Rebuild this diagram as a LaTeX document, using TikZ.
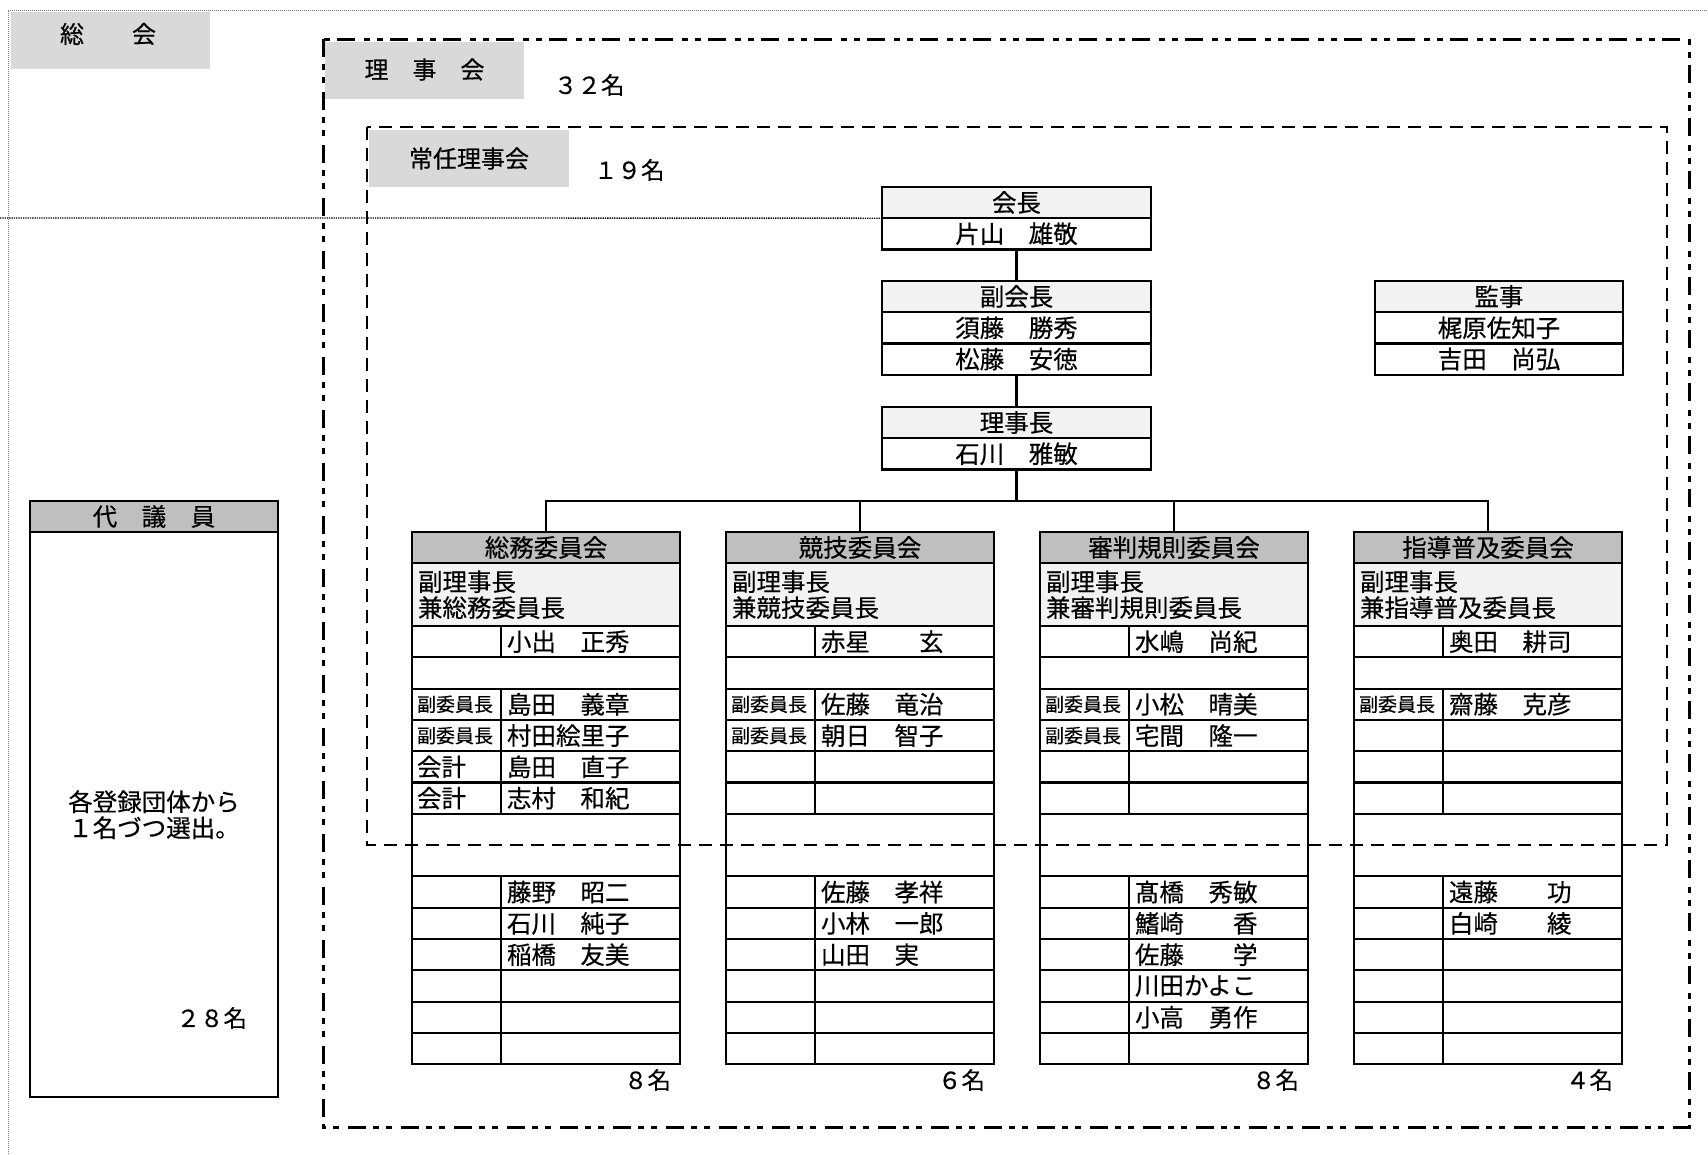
\documentclass[tikz,border=0pt]{standalone}
\usepackage{fontspec}
\setmainfont{Noto Sans CJK JP}[FakeBold=0.4]
\usetikzlibrary{positioning}
\definecolor{hdgray}{RGB}{191,191,191}
\definecolor{ltgray}{RGB}{242,242,242}
\definecolor{lbgray}{RGB}{217,217,217}
\newcommand\fsz[1]{\fontsize{#1}{#1}\selectfont}

\begin{document}
\begin{tikzpicture}[x=1pt,y=-1pt,node distance=0pt,
  every node/.style={draw,line width=2.1pt,inner sep=0pt,outer sep=0pt,minimum height=31.3pt,font=\fsz{24.5}},
  hd/.style={fill=ltgray,minimum width=269pt},
  nm/.style={minimum width=269pt},
  kh/.style={fill=hdgray,minimum width=268pt},
  ks/.style={fill=ltgray,minimum height=63pt,text width=256pt,inner xsep=6pt,align=left,font=\fontsize{24.5}{26}\selectfont},
  txt/.style={draw=none,anchor=west,minimum height=0pt},
  lbl/.style={draw=none,fill=lbgray,minimum width=199pt,minimum height=57pt,font=\fsz{24}},
  cnt/.style={draw=none,minimum height=0pt,font=\fsz{23.5}},
  conn/.style={line width=2.1pt}]

  \useasboundingbox (0,0) rectangle (1708,1154);

  % frames
  \draw[gray,densely dotted,line width=1pt] (8,1154) -- (8,10) -- (1708,10);
  \draw[line width=3pt,dash pattern=on 18pt off 7pt on 6pt off 7pt on 6pt off 9pt] (323,39) rectangle (1689,1127);
  \draw[line width=2.3pt,dash pattern=on 13pt off 8pt] (367,127) rectangle (1667,845);

  \node(S)[lbl] at (110.5,40) {};
  \node(S1)[txt,anchor=center,font=\fsz{24}] at (108,34) {総　　会};
  \node(R)[lbl] at (424.5,70) {\raisebox{3pt}{理　事　会}};
  \node(J)[lbl,minimum width=200pt] at (469,158.5) {常任理事会};
  \node(R1)[cnt,anchor=west] at (554,85) {３２名};
  \node(J1)[cnt,anchor=west] at (594,170) {１９名};

  % officers
  \node(A)[hd] at (1016.5,202.5) {会長};
  \node(A1)[nm,below=of A] {片山　雄敬};
  \node(B)[hd] at (1016.5,296.5) {副会長};
  \node(B1)[nm,below=of B] {須藤　勝秀};
  \node(B2)[nm,below=of B1] {松藤　安徳};
  \node(C)[hd] at (1016.5,422.5) {理事長};
  \node(C1)[nm,below=of C] {石川　雅敏};
  \node(D)[hd,minimum width=248pt] at (1499,296.5) {監事};
  \node(D1)[nm,minimum width=248pt,below=of D] {梶原佐知子};
  \node(D2)[nm,minimum width=248pt,below=of D1] {吉田　尚弘};

  % committees
  \foreach \ci/\cx/\com/\cnum in {1/412/総務/８,2/726/競技/６,3/1040/審判規則/８,4/1354/指導普及/４} {
    \node(K\ci)[kh] at (\cx+134,547.5) {\com 委員会};
    \node(K\ci-s)[ks,below=of K\ci] {副理事長\\兼\com 委員長};
    \node(K\ci-m2)[minimum width=268pt] at (\cx+134,672.95) {};
    \node(K\ci-m7)[minimum width=268pt,minimum height=62.6pt] at (\cx+134,845.1) {};
    \foreach \rw in {1,3,4,5,6,9,10,11,12,13,14} {
      \node(K\ci-a\rw)[minimum width=89pt] at (\cx+44.5,610.35+31.3*\rw) {};
      \node(K\ci-b\rw)[minimum width=179pt] at (\cx+178.5,610.35+31.3*\rw) {};
    }
    \node(K\ci-n)[cnt,anchor=east] at (\cx+259,1080) {\cnum 名};
  }

  \foreach \ci/\rw in {1/3,1/4,2/3,2/4,3/3,3/4,4/3}
    \node(K\ci-r\rw)[txt,font=\fsz{19}] at ([xshift=5pt]K\ci-a\rw.west) {副委員長};
  \foreach \rw in {5,6}
    \node(K1-r\rw)[txt] at ([xshift=5pt]K1-a\rw.west) {会計};

  \foreach \ci/\rw/\who in {1/1/小出　正秀,1/3/島田　義章,1/4/村田絵里子,1/5/島田　直子,1/6/志村　和紀,
      1/9/藤野　昭二,1/10/石川　純子,1/11/稲橋　友美,
      2/1/赤星　　玄,2/3/佐藤　竜治,2/4/朝日　智子,2/9/佐藤　孝祥,2/10/小林　一郎,2/11/山田　実,
      3/1/水嶋　尚紀,3/3/小松　晴美,3/4/宅間　隆一,3/9/髙橋　秀敏,3/10/鰭崎　　香,3/11/佐藤　　学,
      3/12/川田かよこ,3/13/小高　勇作,
      4/1/奥田　耕司,4/3/齋藤　克彦,4/9/遠藤　　功,4/10/白崎　　綾}
    \node(K\ci-t\rw)[txt] at ([xshift=6pt]K\ci-b\rw.west) {\who};

  % delegates
  \node(E)[kh,minimum width=248pt] at (154,516.5) {代　議　員};
  \node(E1)[minimum width=248pt,minimum height=565pt,below=of E,align=center,font=\fontsize{24.5}{26}\selectfont] {各登録団体から\\１名づつ選出。};
  \node(E2)[cnt,anchor=east] at (247,1018) {２８名};

  % connectors
  \coordinate (T) at ([yshift=31pt]K1.north);
  \coordinate (G) at (0,218);
  \draw[conn] (A1) -- (B);
  \draw[conn] (B2) -- (C);
  \draw[conn] (C1) -- (C1 |- T);
  \draw[conn] (K1) -- (K1 |- T) -- (K4 |- T) -- (K4);
  \draw[conn] (K2) -- (K2 |- T);
  \draw[conn] (K3) -- (K3 |- T);
  \draw[densely dotted,line width=1.3pt] (G) -- (A.south west);
\end{tikzpicture}
\end{document}
